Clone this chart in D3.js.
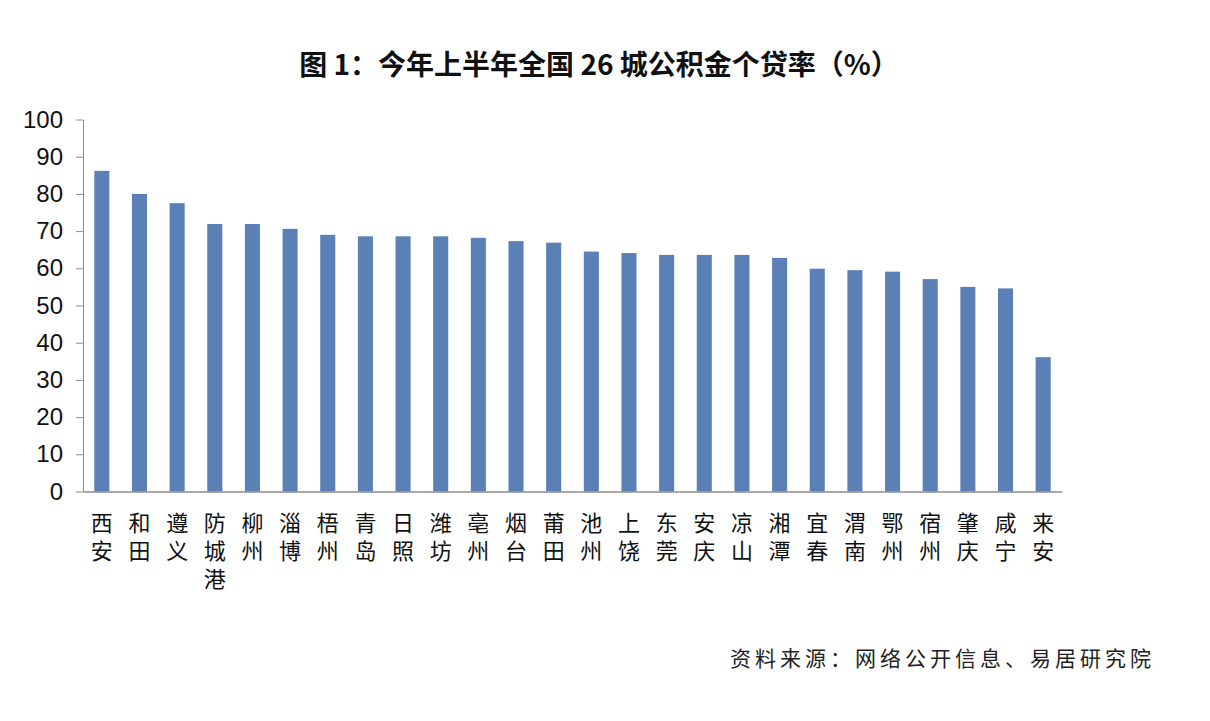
<!DOCTYPE html>
<html><head><meta charset="utf-8">
<script src="https://cdn.jsdelivr.net/npm/d3@7"></script>
<style>html,body{margin:0;padding:0;background:#fff;}</style>
</head><body>
<script>
const titleText = "图 1：今年上半年全国 26 城公积金个贷率（%）";
const sourceText = "资料来源：网络公开信息、易居研究院";
const cities = ["西安","和田","遵义","防城港","柳州","淄博","梧州","青岛","日照","潍坊","亳州","烟台","莆田","池州","上饶","东莞","安庆","凉山","湘潭","宜春","渭南","鄂州","宿州","肇庆","咸宁","来安"];
const rates = [86.2,80.0,77.5,71.9,71.9,70.6,69.0,68.6,68.6,68.6,68.2,67.3,66.9,64.5,64.1,63.6,63.6,63.6,62.8,59.9,59.5,59.1,57.1,55.0,54.6,36.1];
const yTicks = [0,10,20,30,40,50,60,70,80,90,100];

const W = 1210, H = 721;
const mLeft = 83, mRight = 1062, mTop = 119.5, mBottom = 491.5;
const svg = d3.select("body").append("svg").attr("width", W).attr("height", H)
  .style("font-family", "'Liberation Sans', Arial, sans-serif");

const x = d3.scaleBand().domain(cities).range([mLeft, mRight]).paddingInner(0.6).paddingOuter(0.3);
const y = d3.scaleLinear().domain([0, 100]).range([mBottom, mTop]);

// title
svg.append("text").attr("x", 599).attr("y", 75).attr("text-anchor", "middle")
  .style("font-family", "'Noto Sans CJK SC', sans-serif").style("font-weight", "bold")
  .style("font-size", "28px").attr("fill", "#111").text(titleText);

// bars
svg.append("g").selectAll("rect").data(cities).join("rect")
  .attr("x", d => x(d)).attr("width", x.bandwidth())
  .attr("y", (d, i) => y(rates[i])).attr("height", (d, i) => y(0) - y(rates[i]))
  .attr("fill", "#5B80B6");

// y axis
const yAxis = svg.append("g").attr("transform", `translate(${mLeft},0)`)
  .call(d3.axisLeft(y).tickValues(yTicks).tickSize(7).tickPadding(13).tickSizeOuter(0));
yAxis.select(".domain").attr("stroke", "#8c8c8c");
yAxis.selectAll(".tick line").attr("stroke", "#8c8c8c");
yAxis.selectAll(".tick text").style("font-size", "24px").attr("fill", "#111")
  .style("font-family", "'Liberation Sans', Arial, sans-serif");

// x axis line
const xAxis = svg.append("g").attr("transform", `translate(0,${mBottom})`)
  .call(d3.axisBottom(x).tickSize(0).tickFormat(""));
xAxis.select(".domain").attr("stroke", "#8c8c8c").attr("stroke-width", 1.5);

// category labels (vertical stacked)
const lab = svg.append("g").selectAll("text").data(cities).join("text")
  .attr("text-anchor", "middle")
  .style("font-family", "'Liberation Sans', 'Noto Sans CJK SC', sans-serif").style("font-size", "22px")
  .attr("fill", "#111");
lab.each(function(d) {
  const t = d3.select(this);
  const cx = x(d) + x.bandwidth() / 2;
  Array.from(d).forEach((ch, k) => {
    t.append("tspan").attr("x", cx).attr("y", 531 + k * 28).text(ch);
  });
});

// source
svg.append("text").attr("x", 1155).attr("y", 666).attr("text-anchor", "end")
  .style("font-family", "'Noto Sans CJK SC', sans-serif").style("font-size", "21px")
  .style("letter-spacing", "4px").attr("fill", "#222").text(sourceText);
</script>
</body></html>
